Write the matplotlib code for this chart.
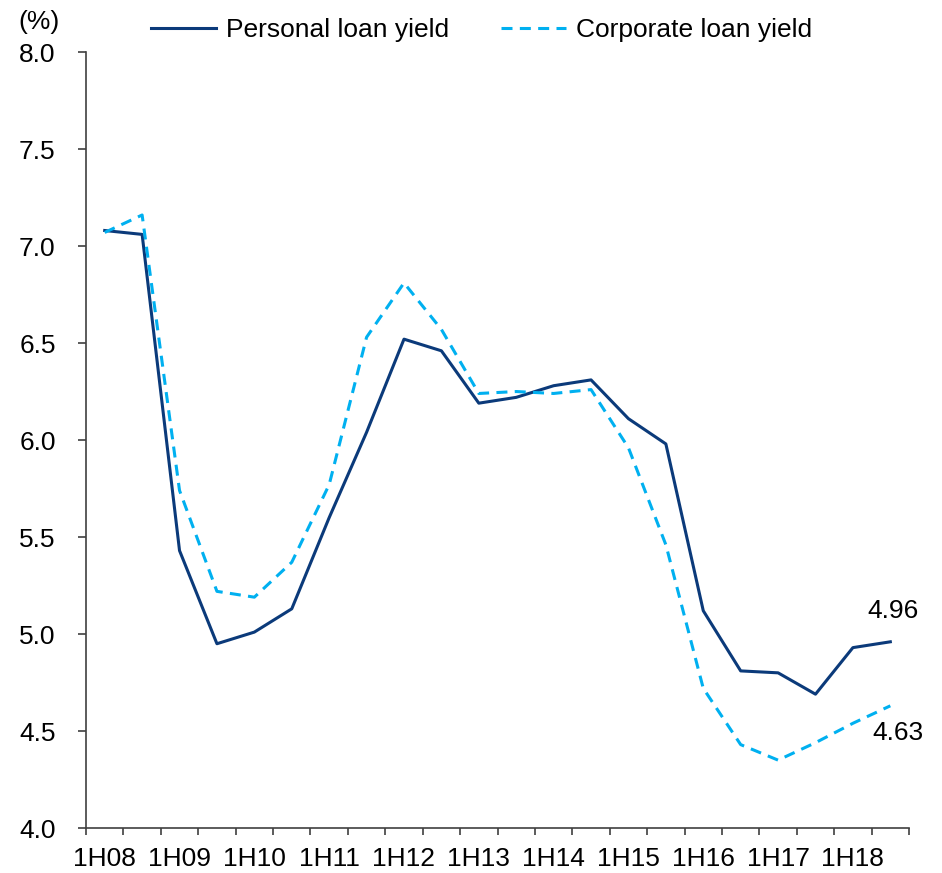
#! /usr/bin/env python3

# Half-yearly personal vs corporate loan yields, 1H08 - 2H18

import numpy as np
import matplotlib
matplotlib.use("Agg")
import matplotlib.pyplot as plt

# half-year periods, 1H08 ... 2H18
periods = ["%dH%02d" % (h, y) for y in range(8, 19) for h in (1, 2)]
tick_labels = ["1H%02d" % y for y in range(8, 19)]

# yields in %
personal = np.array([7.08, 7.06, 5.43, 4.95, 5.01, 5.13, 5.60, 6.04, 6.52, 6.46, 6.19,
                     6.22, 6.28, 6.31, 6.11, 5.98, 5.12, 4.81, 4.80, 4.69, 4.93, 4.96])
corporate = np.array([7.07, 7.16, 5.74, 5.22, 5.19, 5.37, 5.77, 6.53, 6.81, 6.57, 6.24,
                      6.25, 6.24, 6.26, 5.96, 5.46, 4.72, 4.43, 4.35, 4.44, 4.54, 4.63])

matplotlib.rcParams['font.family'] = ['Liberation Sans', 'DejaVu Sans']
matplotlib.rcParams['font.size'] = 19

x = np.arange(len(periods))

fig = plt.figure(figsize=(9.42, 8.73), dpi=100)
ax = fig.add_axes([0.0913, 0.0515, 0.8737, 0.8889])

ax.plot(x, personal, color='#0b3a7a', lw=2.2, label="Personal loan yield")
ax.plot(x, corporate, color='#00b0f0', lw=2.2, dashes=(3.6, 2.4),
        label="Corporate loan yield")

# end-of-series values
ax.annotate("%.2f" % personal[-1], (x[-1], personal[-1]), xytext=(3, 31),
            textcoords='offset pixels', ha='center', va='center')
ax.annotate("%.2f" % corporate[-1], (x[-1], corporate[-1]), xytext=(8, -27),
            textcoords='offset pixels', ha='center', va='center')

ax.set_xlim(-0.5, len(periods) - 0.5)
ax.set_ylim(4.0, 8.0)
ax.set_yticks(np.arange(4.0, 8.01, 0.5))
ax.set_yticklabels(["%.1f" % v for v in np.arange(4.0, 8.01, 0.5)])

# tick marks between categories, labels under every first half
ax.set_xticks(np.arange(-0.5, len(periods), 1.0))
ax.set_xticklabels([])
ax.set_xticks(x[::2], minor=True)
ax.set_xticklabels(tick_labels, minor=True)
ax.tick_params(axis='x', which='minor', length=0, pad=14)
ax.tick_params(axis='x', which='major', length=5, width=1.2, color='#404040')
ax.tick_params(axis='y', length=5.8, width=1.2, color='#404040', pad=16)

for side in ('top', 'right'):
    ax.spines[side].set_visible(False)
for side in ('left', 'bottom'):
    ax.spines[side].set_linewidth(1.2)
    ax.spines[side].set_color('#404040')

fig.text(0.019, 0.975, "(%)", ha='left', va='center')

fig.legend(loc='center', bbox_to_anchor=(0.511, 0.9656), ncol=2, frameon=False,
           handlelength=2.46, columnspacing=1.97, handletextpad=0.38,
           borderaxespad=0.0)

plt.savefig('out.png', dpi=100)
